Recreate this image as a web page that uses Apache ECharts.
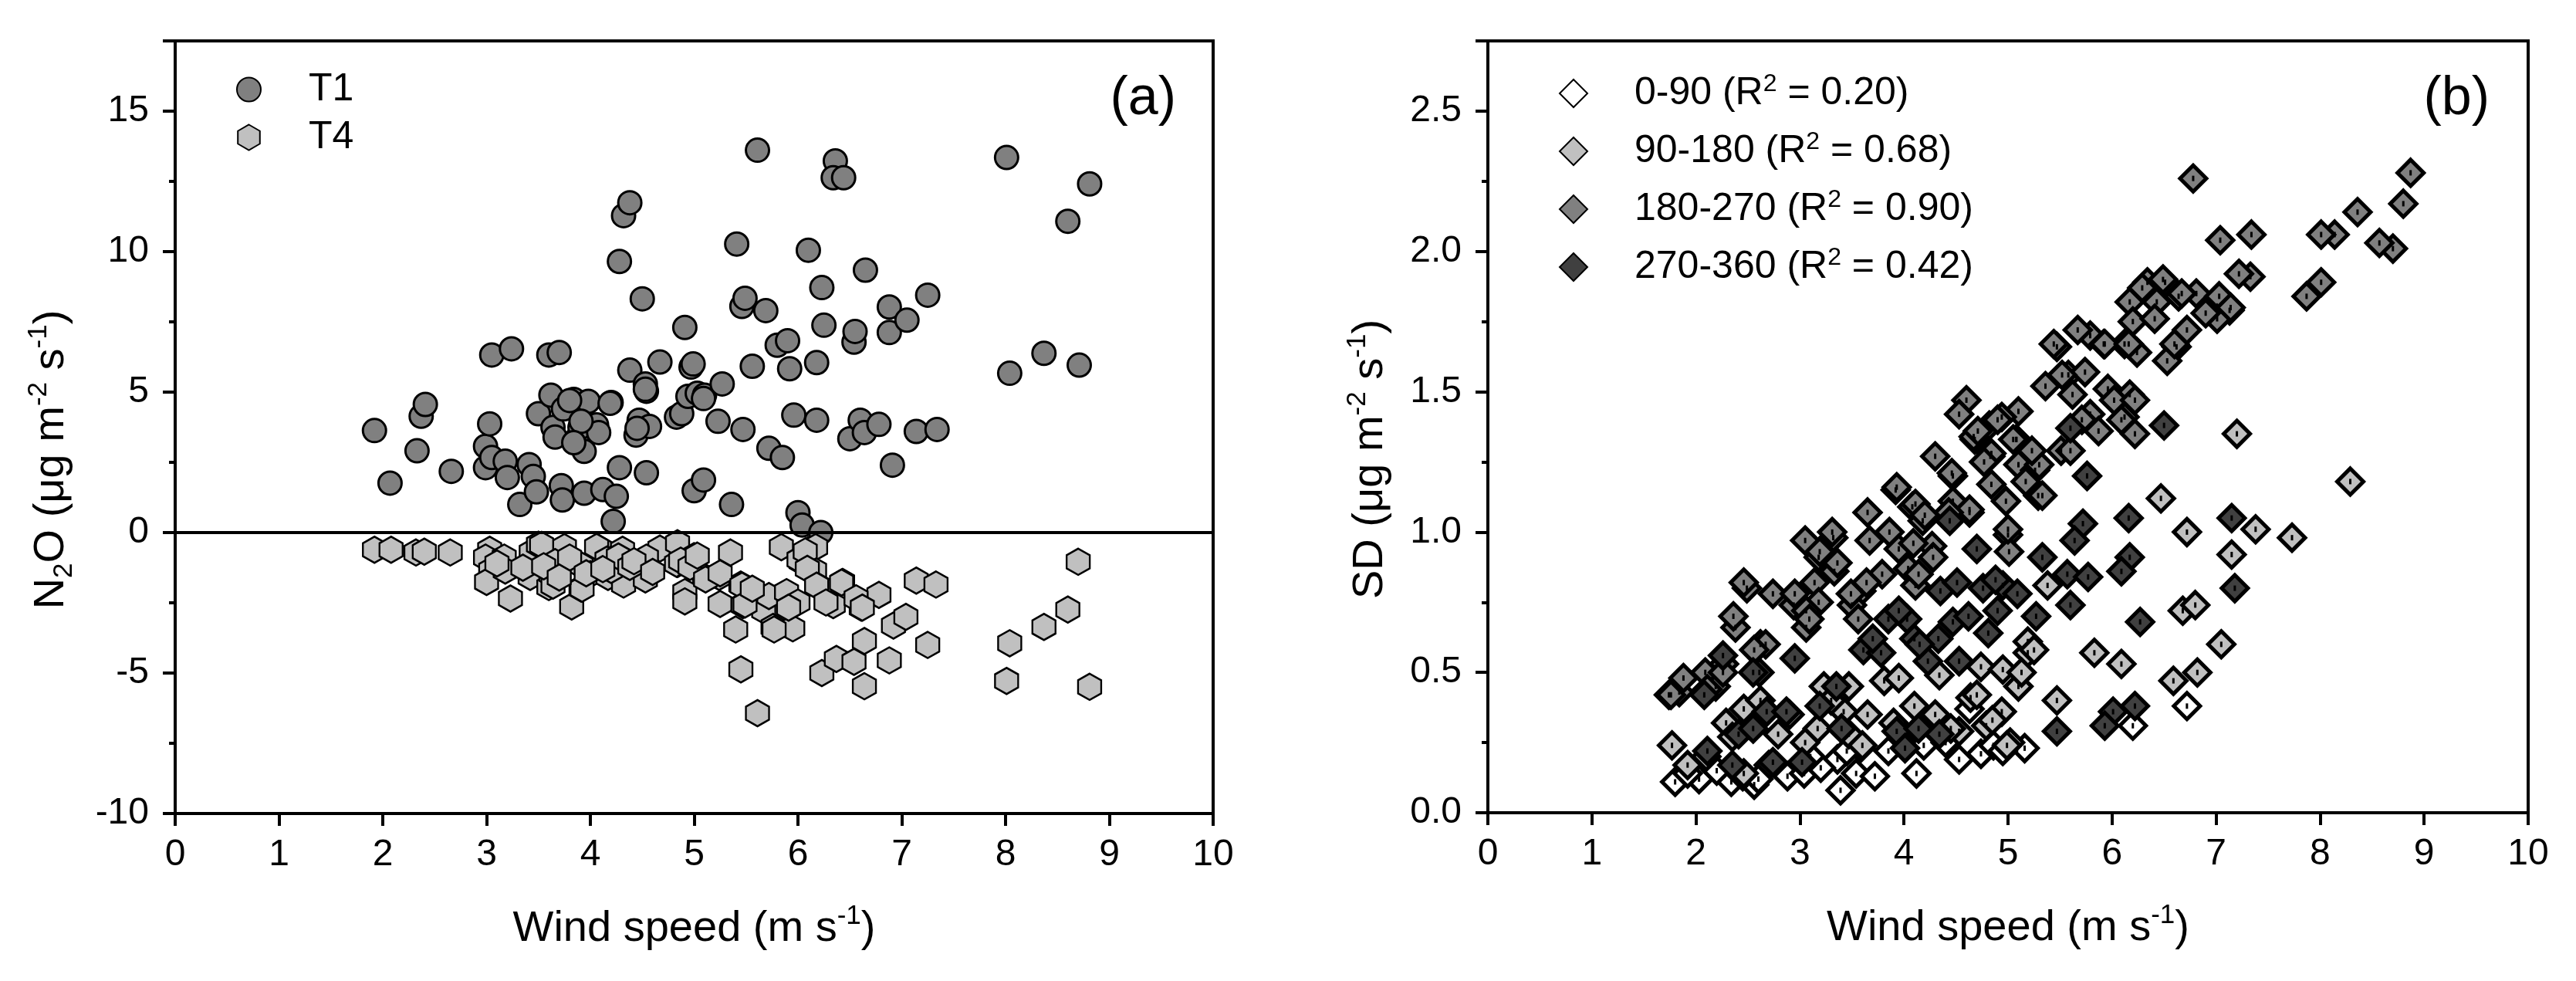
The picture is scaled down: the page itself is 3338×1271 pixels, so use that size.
<!DOCTYPE html>
<html>
<head>
<meta charset="utf-8">
<script src="https://cdn.jsdelivr.net/npm/echarts@6/dist/echarts.min.js"></script>
<style>
  html, body { margin: 0; padding: 0; background: #fff; }
  #chart { width: 3338px; height: 1271px; }
</style>
</head>
<body>
<div id="chart"></div>
<script>
// (a) N2O flux vs wind speed, [wind speed, flux]
const t1Points = [
  [1.92, 3.63], [2.07, 1.76], [2.33, 2.91], [2.37, 4.14], [2.41, 4.56], [2.66, 2.18], [2.99, 3.07], [2.99, 2.31],
  [3.03, 3.87], [3.05, 6.32], [3.05, 2.67], [3.18, 2.54], [3.20, 1.96], [3.24, 6.54], [3.32, 1.0], [3.41, 2.42],
  [3.45, 2.0], [3.48, 1.45], [3.50, 4.23], [3.60, 6.32], [3.62, 4.89], [3.64, 3.74], [3.66, 3.40], [3.70, 6.41],
  [3.72, 1.67], [3.73, 1.16], [3.74, 4.40], [3.84, 4.74], [3.87, 3.34], [3.90, 3.74], [3.94, 1.40], [3.94, 2.89],
  [3.98, 4.67], [4.06, 3.83], [4.08, 3.56], [4.12, 1.53], [4.20, 4.63], [4.22, 0.40], [4.25, 1.29], [4.28, 2.31],
  [4.28, 9.65], [4.32, 11.28], [4.38, 11.74], [4.38, 5.78], [4.44, 3.47], [4.47, 4.0], [4.50, 8.32], [4.53, 5.29],
  [4.54, 5.03], [4.54, 2.13], [4.57, 3.78], [4.67, 6.07], [4.83, 4.11], [4.88, 4.23], [4.91, 7.30], [4.94, 4.85],
  [4.97, 5.89], [4.99, 6.0], [5.0, 1.49], [5.03, 4.96], [5.09, 1.87], [5.10, 4.89], [5.23, 3.96], [5.27, 5.29],
  [5.36, 1.0], [5.41, 10.27], [5.46, 8.05], [5.49, 8.34], [5.47, 3.67], [5.56, 5.92], [5.61, 13.61], [5.69, 7.90],
  [5.72, 3.0], [5.80, 6.67], [5.85, 2.67], [5.90, 6.83], [5.92, 5.83], [5.96, 4.18], [6.0, 0.71], [6.04, 0.27],
  [6.10, 10.05], [6.18, 6.05], [6.18, 4.0], [6.22, 0.0], [6.23, 8.72], [6.25, 7.38], [6.36, 13.23], [6.34, 12.63],
  [6.44, 12.63], [6.50, 3.34], [6.54, 6.78], [6.55, 7.16], [6.60, 4.0], [6.64, 3.56], [6.65, 9.34], [6.78, 3.85],
  [6.88, 8.03], [6.88, 7.12], [6.91, 2.40], [7.05, 7.56], [7.14, 3.60], [7.25, 8.45], [7.34, 3.67], [8.01, 13.35],
  [8.04, 5.67], [8.37, 6.38], [8.60, 11.08], [8.71, 5.96], [8.81, 12.41],
  [3.80, 4.70], [3.91, 3.96], [4.19, 4.60], [4.45, 3.71], [5.09, 4.77], [4.53, 5.10], [3.84, 3.20]
];
const t4Points = [
  [1.92, -0.61], [2.08, -0.61], [2.32, -0.71], [2.40, -0.68], [2.65, -0.71], [3.03, -0.61], [2.99, -0.89], [3.04, -1.35],
  [3.0, -1.76], [3.17, -0.89], [3.18, -1.35], [3.23, -2.35], [3.43, -0.71], [3.42, -1.58], [3.50, -0.43], [3.60, -1.94],
  [3.65, -1.03], [3.62, -1.48], [3.75, -0.52], [3.82, -2.63], [3.91, -1.16], [3.91, -1.99], [4.0, -1.48], [4.09, -0.57],
  [4.19, -0.98], [4.17, -1.58], [4.31, -0.61], [4.32, -1.85], [4.51, -1.16], [4.53, -1.67], [4.67, -0.57], [4.84, -0.38],
  [4.84, -1.12], [4.95, -1.12], [4.91, -2.12], [4.91, -2.45], [5.0, -0.84], [5.10, -1.58], [5.24, -1.58], [5.25, -2.54],
  [5.35, -0.71], [5.45, -1.85], [5.55, -2.03], [5.40, -3.45], [5.45, -4.87], [5.61, -6.43], [5.47, -2.58], [5.67, -2.77],
  [5.72, -2.26], [5.76, -3.36], [5.89, -2.12], [5.95, -3.41], [5.84, -0.52], [6.0, -2.49], [6.03, -1.03], [6.11, -0.61],
  [6.17, -0.52], [6.16, -1.35], [6.21, -1.94], [6.23, -5.0], [6.34, -2.58], [6.37, -4.5], [6.43, -1.76], [6.54, -4.6],
  [6.61, -2.67], [6.64, -3.86], [6.64, -5.47], [6.78, -2.22], [6.88, -4.55], [6.92, -3.31], [7.04, -3.0], [7.14, -1.71],
  [7.33, -1.85], [7.25, -4.0], [8.01, -5.28], [8.04, -3.94], [8.37, -3.36], [8.60, -2.74], [8.70, -1.04], [8.81, -5.49],
  [3.53, -0.44], [3.64, -1.89], [3.66, -1.05], [3.80, -0.89], [3.92, -2.0], [3.96, -1.45], [4.06, -0.51], [4.16, -0.96],
  [4.20, -1.33], [4.27, -0.85], [4.38, -1.22], [4.54, -0.89], [4.83, -1.11], [4.87, -1.0], [4.96, -1.22], [5.03, -0.82],
  [5.11, -1.67], [5.25, -1.45], [5.46, -1.89], [5.49, -2.56], [5.56, -2.0], [5.77, -3.45], [5.91, -2.67], [6.01, -0.96],
  [6.07, -0.67], [6.09, -1.29], [6.18, -1.89], [6.27, -2.49], [6.42, -1.78], [6.56, -2.34], [6.62, -2.67],
  [3.10, -1.10], [3.35, -1.25], [3.55, -1.20], [3.70, -1.60], [4.12, -1.30], [4.42, -1.02], [4.60, -1.40]
];

// (b) SD vs wind speed by wind direction sector
const sectorNames = ['0-90', '90-180', '180-270', '270-360'];
const sectorR2 = ['0.20', '0.68', '0.90', '0.42'];
const sector1 = [
  [1.80, 0.11], [2.03, 0.12], [2.34, 0.11], [2.56, 0.10], [2.88, 0.13], [3.04, 0.14], [3.39, 0.08], [3.54, 0.14],
  [3.72, 0.13], [4.12, 0.14], [4.53, 0.19], [4.74, 0.21], [4.86, 0.24], [5.16, 0.23], [3.36, 0.19], [3.58, 0.23],
  [3.97, 0.26], [4.19, 0.24], [4.28, 0.33], [4.63, 0.37], [6.20, 0.31], [6.72, 0.38], [1.92, 0.14], [2.20, 0.15],
  [2.45, 0.13], [2.70, 0.17], [3.20, 0.16], [3.45, 0.22], [3.85, 0.22], [5.02, 0.25], [2.60, 0.12], [3.10, 0.20],
  [4.40, 0.25], [4.95, 0.22]
];
const sector2 = [
  [1.77, 0.24], [1.92, 0.17], [2.29, 0.32], [2.46, 0.37], [2.46, 0.14], [2.79, 0.28], [3.17, 0.30], [3.23, 0.45],
  [3.42, 0.36], [3.47, 0.45], [3.47, 0.28], [3.60, 0.24], [3.81, 0.47], [3.95, 0.48], [4.34, 0.49], [4.53, 0.29],
  [4.64, 0.41], [4.74, 0.52], [4.79, 0.31], [4.94, 0.36], [4.95, 0.51], [4.99, 0.24], [5.10, 0.45], [5.19, 0.57],
  [5.19, 0.61], [5.25, 0.58], [5.13, 0.50], [5.38, 0.81], [5.47, 0.40], [5.83, 0.57], [6.09, 0.53], [6.47, 1.12],
  [6.59, 0.47], [6.68, 0.72], [6.72, 1.0], [6.80, 0.74], [6.82, 0.50], [7.05, 0.60], [7.15, 0.92], [7.20, 1.35],
  [7.38, 1.01], [7.73, 0.98], [8.29, 1.18],
  [2.10, 0.20], [2.35, 0.27], [2.62, 0.40], [2.90, 0.35], [3.05, 0.25], [3.30, 0.40], [3.65, 0.35], [3.90, 0.32],
  [4.10, 0.38], [4.30, 0.35], [4.45, 0.30], [4.70, 0.42], [4.85, 0.33]
];
const sector3 = [
  [4.30, 1.27], [4.47, 1.20], [4.68, 1.33], [4.83, 1.27], [5.08, 1.33], [5.10, 1.24], [5.26, 1.22], [5.29, 1.13],
  [4.84, 1.17], [4.47, 1.11], [4.63, 1.07], [3.92, 1.15], [4.08, 1.09], [3.65, 1.07], [4.18, 1.04], [3.86, 1.00],
  [3.67, 0.97], [3.05, 0.97], [3.32, 0.98], [3.95, 0.94], [4.27, 0.95], [3.18, 0.91], [3.33, 0.86], [3.79, 0.85],
  [4.04, 0.87], [4.11, 0.81], [3.59, 0.79], [3.14, 0.82], [3.18, 0.75], [2.94, 0.74], [3.50, 0.74], [3.56, 0.69],
  [3.06, 0.72], [3.06, 0.66], [5.00, 0.99], [5.01, 0.93], [2.49, 0.80], [2.74, 0.78], [2.38, 0.66], [2.62, 0.60],
  [2.27, 0.53], [2.19, 0.45], [1.84, 0.43], [1.74, 0.42],
  [6.78, 2.26], [8.87, 2.28], [8.80, 2.17], [8.36, 2.14], [7.34, 2.06], [7.04, 2.04], [8.14, 2.06], [8.01, 2.06],
  [8.70, 2.01], [8.57, 2.03], [7.33, 1.91], [7.22, 1.92], [8.01, 1.89], [7.87, 1.84], [6.34, 1.89], [6.51, 1.89],
  [6.81, 1.85], [7.03, 1.84], [6.64, 1.84], [6.17, 1.82], [6.43, 1.82], [7.13, 1.79], [7.01, 1.76], [6.20, 1.75],
  [6.72, 1.72], [6.62, 1.66], [6.53, 1.61], [5.79, 1.70], [5.92, 1.67], [5.47, 1.66], [6.12, 1.67], [6.24, 1.64],
  [5.67, 1.72], [5.58, 1.56], [5.36, 1.52], [5.74, 1.57], [5.96, 1.51], [6.17, 1.49], [5.62, 1.49], [4.60, 1.47],
  [4.53, 1.42], [5.10, 1.43], [4.94, 1.41], [6.12, 1.41], [6.22, 1.35], [4.82, 1.38], [4.67, 1.34], [5.08, 1.33],
  [5.51, 1.29], [5.30, 1.24], [4.84, 1.28], [4.46, 1.21], [3.93, 1.16], [4.11, 1.10], [4.20, 1.06], [4.63, 1.08],
  [5.00, 1.01], [5.79, 1.42],
  [5.44, 1.67], [5.52, 1.56], [5.60, 1.29], [5.71, 1.40], [5.87, 1.36], [5.93, 1.67], [6.02, 1.47], [6.09, 1.40],
  [6.16, 1.67], [6.22, 1.47], [6.29, 1.87], [6.41, 1.76], [6.49, 1.90], [6.60, 1.67], [6.67, 1.85], [6.90, 1.78],
  [7.14, 1.80], [5.17, 1.18], [5.23, 1.29], [5.33, 1.13], [4.98, 1.11], [5.05, 1.33], [4.71, 1.36], [4.77, 1.25],
  [4.90, 1.40], [4.28, 0.91], [4.43, 1.07], [4.14, 0.85], [4.09, 0.96], [3.49, 0.78], [3.64, 0.82], [3.36, 0.89],
  [3.19, 0.93], [3.31, 1.0], [3.09, 0.69], [2.95, 0.78], [2.67, 0.60], [2.56, 0.58], [2.36, 0.70], [2.46, 0.82],
  [2.09, 0.50], [2.11, 0.44], [2.26, 0.50], [1.88, 0.48], [1.76, 0.42]
];
const sector4 = [
  [4.44, 1.04], [4.70, 0.94], [4.35, 0.79], [4.51, 0.82], [4.76, 0.80], [4.95, 0.81], [5.09, 0.78], [5.27, 0.70],
  [4.47, 0.68], [4.81, 0.64], [3.85, 0.69], [4.03, 0.69], [3.61, 0.58], [3.78, 0.57], [4.53, 0.54], [4.23, 0.54],
  [2.95, 0.55], [2.61, 0.50], [2.08, 0.42], [3.19, 0.38], [2.68, 0.36], [2.87, 0.36], [2.41, 0.28], [3.93, 0.29],
  [4.34, 0.28], [4.14, 0.30], [4.01, 0.23], [2.11, 0.22], [2.35, 0.17], [2.74, 0.18], [3.02, 0.18],
  [6.16, 1.05], [5.72, 1.03], [5.64, 0.97], [6.17, 0.91], [6.09, 0.86], [5.57, 0.85], [5.77, 0.84], [7.15, 1.05],
  [7.18, 0.80], [5.60, 0.74], [6.27, 0.68], [6.01, 0.36], [6.22, 0.38], [5.93, 0.31], [5.47, 0.29],
  [6.50, 1.38], [5.60, 1.37], [5.76, 1.20], [5.33, 0.91], [4.62, 0.70], [4.90, 0.72], [4.33, 0.62], [4.10, 0.62],
  [3.95, 0.72], [2.55, 0.50], [2.55, 0.30], [3.35, 0.45], [3.40, 0.30], [3.70, 0.62], [4.15, 0.60], [4.88, 0.83],
  [2.26, 0.56]
];
const sectorData = [sector1, sector2, sector3, sector4];
const sectorFill = ['#ffffff', '#c0c0c0', '#808080', '#404040'];

const FONT = "'Liberation Sans', Arial, sans-serif";
const hexagon = 'path://M0,-10L8.66,-5L8.66,5L0,10L-8.66,5L-8.66,-5Z';

const titleRich = {
  t: { fontSize: 56, lineHeight: 68, fontFamily: FONT, color: '#000' },
  sup: { fontSize: 35, lineHeight: 35, fontFamily: FONT, color: '#000', verticalAlign: 'top' },
  sub: { fontSize: 35, lineHeight: 35, fontFamily: FONT, color: '#000', verticalAlign: 'bottom' },
}

function xAxisOf(gridIndex) {
  return {
    gridIndex,
    type: 'value',
    min: 0,
    max: 10,
    interval: 1,
    name: '{t|Wind speed (m s}{sup|-1}{t|)}',
    nameLocation: 'middle',
    nameGap: 116,
    nameTextStyle: { rich: titleRich },
    axisLine: { show: true, onZero: false, lineStyle: { color: '#000', width: 4 } },
    axisTick: { show: true, length: 16, lineStyle: { color: '#000', width: 4 } },
    splitLine: { show: false },
    axisLabel: { color: '#000', fontSize: 48, fontFamily: FONT, margin: 30 },
  }
}

function yAxisOf(gridIndex, opt) {
  return Object.assign({
    gridIndex,
    type: 'value',
    nameLocation: 'middle',
    nameRotate: 90,
    nameTextStyle: { rich: titleRich, padding: [0, 84, 0, 0] },
    axisLine: { show: true, onZero: false, lineStyle: { color: '#000', width: 4 } },
    axisTick: { show: true, length: 16, lineStyle: { color: '#000', width: 4 } },
    minorTick: { show: true, splitNumber: 2, length: 8, lineStyle: { color: '#000', width: 4 } },
    splitLine: { show: false },
    minorSplitLine: { show: false },
  }, opt)
}

const series = [
  {
    name: 'T1',
    type: 'scatter',
    xAxisIndex: 0,
    yAxisIndex: 0,
    data: t1Points,
    symbol: 'circle',
    symbolSize: 30,
    itemStyle: { color: '#808080', borderColor: '#000', borderWidth: 3, opacity: 1 },
    markLine: {
      silent: true,
      symbol: 'none',
      label: { show: false },
      lineStyle: { color: '#000', width: 4, type: 'solid' },
      data: [{ yAxis: 0 }],
      z: 10,
    },
  },
  {
    name: 'T4',
    type: 'scatter',
    xAxisIndex: 0,
    yAxisIndex: 0,
    data: t4Points,
    symbol: hexagon,
    symbolSize: [30, 34],
    itemStyle: { color: '#c0c0c0', borderColor: '#000', borderWidth: 2.5, opacity: 1 },
  },
]

sectorNames.forEach((name, i) => {
  series.push({
    name,
    type: 'scatter',
    xAxisIndex: 1,
    yAxisIndex: 1,
    data: sectorData[i],
    symbol: 'diamond',
    symbolSize: 34,
    itemStyle: { color: sectorFill[i], borderColor: '#000', borderWidth: 5, opacity: 1 },
  })
  // little centre mark inside each diamond
  series.push({
    name: name + '-dot',
    type: 'scatter',
    xAxisIndex: 1,
    yAxisIndex: 1,
    data: sectorData[i],
    symbol: 'rect',
    symbolSize: [3, 7],
    silent: true,
    itemStyle: { color: '#000', opacity: 1 },
  })
})

const chart = echarts.init(document.getElementById('chart'), null, { renderer: 'canvas' })

chart.setOption({
  animation: false,
  backgroundColor: '#fff',
  textStyle: { fontFamily: FONT },
  grid: [
    { left: 227, top: 53, width: 1345, height: 1001, show: true, borderColor: '#000', borderWidth: 4, backgroundColor: 'transparent' },
    { left: 1928, top: 53, width: 1348, height: 1000, show: true, borderColor: '#000', borderWidth: 4, backgroundColor: 'transparent' },
  ],
  xAxis: [xAxisOf(0), xAxisOf(1)],
  yAxis: [
    yAxisOf(0, {
      min: -10,
      max: 17.5,
      interval: 5,
      name: '{t|N}{sub|2}{t|O (μg m}{sup|-2}{t| s}{sup|-1}{t|)}',
      nameGap: 126,
      axisLabel: { color: '#000', fontSize: 48, fontFamily: FONT, margin: 34, showMaxLabel: false },
    }),
    yAxisOf(1, {
      min: 0,
      max: 2.75,
      interval: 0.5,
      name: '{t|SD (μg m}{sup|-2}{t| s}{sup|-1}{t|)}',
      nameGap: 118,
      axisLabel: {
        color: '#000', fontSize: 48, fontFamily: FONT, margin: 34, showMaxLabel: false,
        formatter: (v) => v.toFixed(1),
      },
    }),
  ],
  legend: [
    {
      data: ['T1', 'T4'],
      orient: 'vertical',
      left: 306,
      top: 88,
      padding: 0,
      itemWidth: 31,
      itemHeight: 33,
      itemGap: 6,
      selectedMode: false,
      formatter: (name) => '{g| }{t|' + name + '}',
      textStyle: {
        fontSize: 50,
        lineHeight: 56,
        rich: {
          g: { width: 57, lineHeight: 56 },
          t: { fontSize: 50, lineHeight: 56, fontFamily: FONT, color: '#000' },
        },
      },
    },
    {
      data: sectorNames,
      orient: 'vertical',
      left: 2020,
      top: 93,
      padding: 0,
      itemWidth: 36,
      itemHeight: 36,
      itemGap: 19,
      selectedMode: false,
      formatter: (name) => {
        const i = sectorNames.indexOf(name)
        return '{g| }{t|' + name + ' (R}{sup|2}{t| = ' + sectorR2[i] + ')}'
      },
      textStyle: {
        fontSize: 50,
        lineHeight: 56,
        rich: {
          g: { width: 56, lineHeight: 56 },
          t: { fontSize: 50, lineHeight: 56, fontFamily: FONT, color: '#000' },
          sup: { fontSize: 32, lineHeight: 28, fontFamily: FONT, color: '#000', verticalAlign: 'top' },
        },
      },
    },
  ],
  graphic: [
    { type: 'text', right: 3338 - 1524, top: 94, style: { text: '(a)', font: '70px ' + FONT, fill: '#000' } },
    { type: 'text', right: 3338 - 3226, top: 94, style: { text: '(b)', font: '70px ' + FONT, fill: '#000' } },
  ],
  series,
})
</script>
</body>
</html>
